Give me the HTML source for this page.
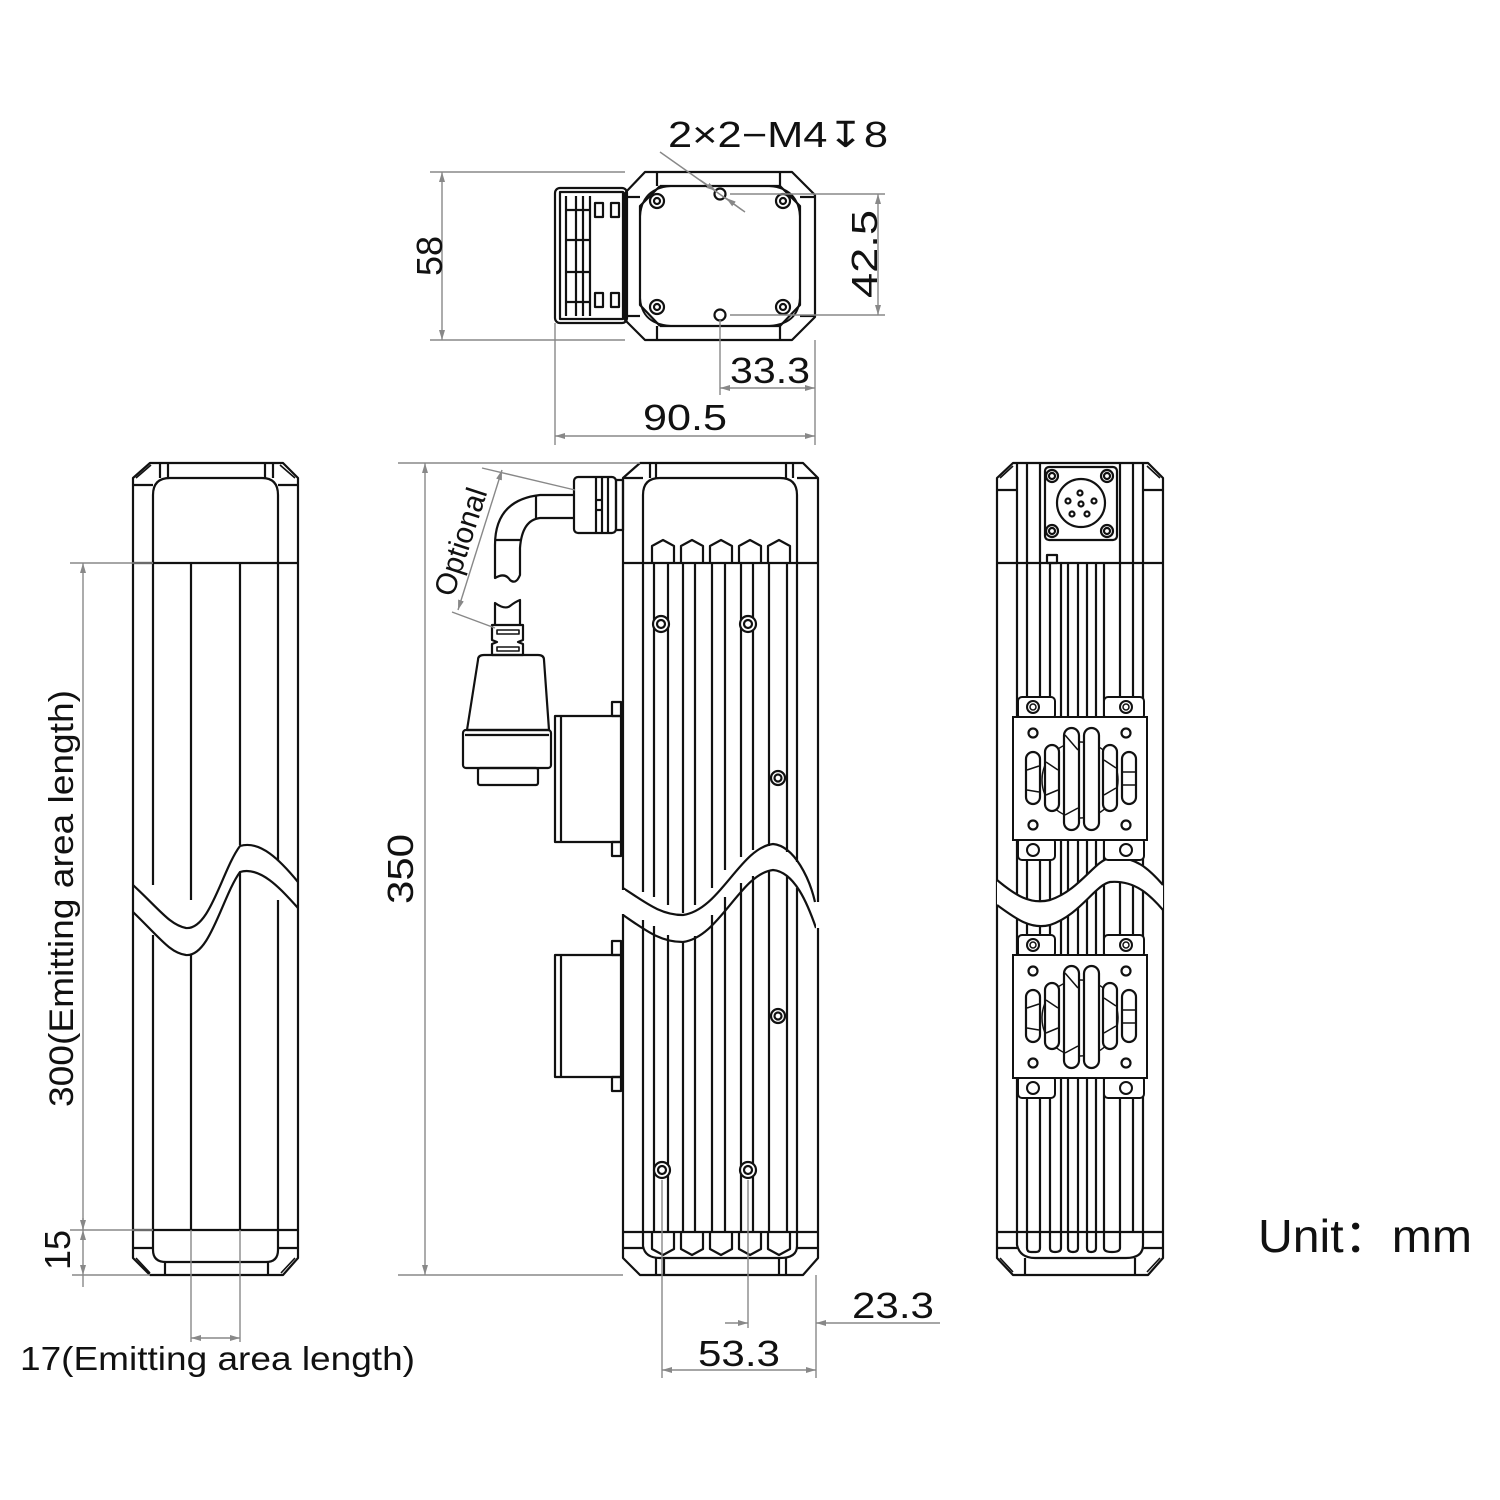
<!DOCTYPE html>
<html><head><meta charset="utf-8"><style>
html,body{margin:0;padding:0;background:#fff;}
svg{display:block}
text{font-family:"Liberation Sans",sans-serif;fill:#111}
</style></head><body>
<svg width="1500" height="1500" viewBox="0 0 1500 1500" xmlns="http://www.w3.org/2000/svg">
<defs>
<marker id="a" viewBox="0 0 10 6" refX="10" refY="3" markerWidth="10" markerHeight="6" orient="auto-start-reverse" markerUnits="userSpaceOnUse"><path d="M0,0L10,3L0,6z" fill="#888"/></marker>
<g id="fan">
 <rect x="1018" y="697" width="37" height="22" rx="4" fill="#fff" stroke="#111" stroke-width="2"/>
 <rect x="1104" y="697" width="40" height="22" rx="4" fill="#fff" stroke="#111" stroke-width="2"/>
 <rect x="1018" y="838" width="37" height="22" rx="4" fill="#fff" stroke="#111" stroke-width="2"/>
 <rect x="1104" y="838" width="40" height="22" rx="4" fill="#fff" stroke="#111" stroke-width="2"/>
 <circle cx="1033" cy="707" r="6" fill="none" stroke="#111" stroke-width="2"/><circle cx="1033" cy="707" r="3" fill="none" stroke="#111" stroke-width="1.5"/>
 <circle cx="1126" cy="707" r="6" fill="none" stroke="#111" stroke-width="2"/><circle cx="1126" cy="707" r="3" fill="none" stroke="#111" stroke-width="1.5"/>
 <circle cx="1033" cy="850" r="6" fill="none" stroke="#111" stroke-width="2"/><circle cx="1126" cy="850" r="6" fill="none" stroke="#111" stroke-width="2"/>
 <rect x="1013" y="717" width="134" height="123" fill="#fff" stroke="#111" stroke-width="2"/>
 <circle cx="1033" cy="733" r="4.5" fill="none" stroke="#111" stroke-width="2.2"/>
 <circle cx="1126" cy="733" r="4.5" fill="none" stroke="#111" stroke-width="2.2"/>
 <circle cx="1033" cy="825" r="4.5" fill="none" stroke="#111" stroke-width="2.2"/>
 <circle cx="1126" cy="825" r="4.5" fill="none" stroke="#111" stroke-width="2.2"/>
 <circle cx="1080" cy="780" r="38" fill="none" stroke="#111" stroke-width="1.5"/>
 <g fill="#fff" stroke="#111" stroke-width="2.2">
 <rect x="1026" y="752" width="14" height="52" rx="7"/>
 <rect x="1045" y="745" width="14" height="66" rx="7"/>
 <rect x="1064" y="728" width="15" height="102" rx="7.5"/>
 <rect x="1084" y="728" width="15" height="102" rx="7.5"/>
 <rect x="1103" y="745" width="14" height="66" rx="7"/>
 <rect x="1122" y="752" width="14" height="52" rx="7"/>
 </g>
 <g stroke="#111" stroke-width="1.5">
 <line x1="1027" y1="770" x2="1039" y2="766"/><line x1="1027" y1="790" x2="1039" y2="792"/>
 <line x1="1046" y1="762" x2="1058" y2="770"/><line x1="1046" y1="795" x2="1058" y2="790"/>
 <line x1="1065" y1="735" x2="1078" y2="750"/><line x1="1065" y1="815" x2="1078" y2="808"/>
 <line x1="1104" y1="760" x2="1116" y2="768"/><line x1="1104" y1="795" x2="1116" y2="788"/>
 <line x1="1123" y1="772" x2="1135" y2="772"/><line x1="1123" y1="785" x2="1135" y2="785"/>
 </g>
</g>
</defs>

<g fill="none" stroke="#111" stroke-width="2.2" stroke-linejoin="round">
<!-- ===== TOP VIEW ===== -->
<rect x="555" y="188" width="72" height="135" rx="5"/>
<rect x="560" y="192" width="63" height="127"/>
<line x1="566" y1="196" x2="566" y2="316"/><line x1="590" y1="196" x2="590" y2="316"/>
<line x1="576" y1="196" x2="576" y2="316"/><line x1="583" y1="196" x2="583" y2="316"/>
<rect x="595" y="203" width="8" height="14"/><rect x="611" y="203" width="8" height="14"/>
<rect x="595" y="293" width="8" height="14"/><rect x="611" y="293" width="8" height="14"/>
<line x1="566" y1="210" x2="590" y2="210"/><line x1="566" y1="240" x2="590" y2="240"/><line x1="566" y1="272" x2="590" y2="272"/><line x1="566" y1="302" x2="590" y2="302"/>
<path d="M645,172 L792,172 L815,195 L815,317 L792,340 L645,340 L625,320 L625,193 Z"/>
<path d="M657,172 L657,186 M780,172 L780,186 M657,340 L657,326 M780,340 L780,326"/>
<line x1="660" y1="186" x2="780" y2="186"/><line x1="660" y1="326" x2="780" y2="326"/>
<line x1="625" y1="197" x2="640" y2="197"/><line x1="625" y1="316" x2="640" y2="316"/>
<line x1="800" y1="197" x2="815" y2="197"/><line x1="800" y1="316" x2="815" y2="316"/>
<path d="M660,186 L640,206 L640,305 L660,326"/>
<path d="M780,186 L800,206 L800,305 L780,326"/>
<path d="M675,186 Q640,186 640,220 M765,186 Q800,186 800,220 M675,326 Q640,326 640,295 M765,326 Q800,326 800,295" stroke-width="1.8"/>
<circle cx="657" cy="201" r="7"/><circle cx="657" cy="201" r="3"/>
<circle cx="783" cy="201" r="7"/><circle cx="783" cy="201" r="3"/>
<circle cx="657" cy="307" r="7"/><circle cx="657" cy="307" r="3"/>
<circle cx="783" cy="307" r="7"/><circle cx="783" cy="307" r="3"/>
<circle cx="720" cy="194" r="5.5"/><circle cx="720" cy="315" r="5.5"/>

<!-- ===== LEFT VIEW ===== -->
<path d="M150,463 L283,463 L298,478 L298,1258 L283,1275 L150,1275 L133,1258 L133,478 Z"/>
<path d="M136,478 L151,465 M295,478 L280,465" stroke-width="1.6"/>
<line x1="133" y1="485" x2="153" y2="485"/><line x1="278" y1="485" x2="298" y2="485"/>
<line x1="168" y1="463" x2="168" y2="478"/><line x1="265" y1="463" x2="265" y2="478"/>
<line x1="160" y1="463" x2="160" y2="478"/><line x1="273" y1="463" x2="273" y2="478"/>
<path d="M153,563 L153,495 Q153,478 170,478 L262,478 Q278,478 278,495 L278,563"/>
<line x1="133" y1="563" x2="298" y2="563"/>
<path d="M153,885 L153,563 M191,900 L191,563 M240,845 L240,563 M278,860 L278,563"/>
<path d="M153,935 L153,1230 M191,955 L191,1230 M240,872 L240,1230 M278,900 L278,1230"/>
<path d="M133,885 C160,910 170,925 186,928 C210,930 222,870 240,846 C260,840 280,860 298,882"/>
<path d="M133,912 C160,938 170,953 186,955 C210,957 222,897 240,872 C260,866 280,888 298,908"/>
<line x1="133" y1="1230" x2="298" y2="1230"/>
<path d="M153,1230 L153,1250 Q153,1262 166,1262 L266,1262 Q278,1262 278,1250 L278,1230"/>
<line x1="133" y1="1248" x2="153" y2="1248"/><line x1="278" y1="1248" x2="298" y2="1248"/>
<line x1="165" y1="1262" x2="165" y2="1275"/><line x1="268" y1="1262" x2="268" y2="1275"/>
<path d="M136,1258 L150,1273 M295,1258 L281,1273" stroke-width="1.6"/>

<!-- ===== MIDDLE VIEW ===== -->
<path d="M640,463 L803,463 L818,478 L818,1258 L803,1275 L640,1275 L623,1258 L623,478 Z"/>
<line x1="623" y1="478" x2="643" y2="478"/><line x1="797" y1="478" x2="818" y2="478"/>
<line x1="656" y1="463" x2="656" y2="478"/><line x1="786" y1="463" x2="786" y2="478"/>
<line x1="650" y1="463" x2="650" y2="478"/><line x1="793" y1="463" x2="793" y2="478"/>
<path d="M643,563 L643,495 Q643,478 660,478 L780,478 Q797,478 797,495 L797,563"/>
<line x1="623" y1="563" x2="818" y2="563"/>
<path d="M652,563 L652,546 L663,540 L674,546 L674,563 M681,563 L681,546 L692,540 L703,546 L703,563 M710,563 L710,546 L721,540 L732,546 L732,563 M739,563 L739,546 L750,540 L761,546 L761,563 M768,563 L768,546 L779,540 L790,546 L790,563"/>
<path d="M643,563V892 M654,563V897 M668,563V905 M683,563V913 M695,563V905 M712,563V888 M725,563V870 M741,563V857 M753,563V850 M769,563V846 M787,563V852 M797,563V862"/>
<path d="M643,920V1232 M654,926V1232 M668,935V1232 M683,942V1232 M695,936V1232 M712,915V1232 M725,897V1232 M741,883V1232 M753,876V1232 M769,871V1232 M787,876V1232 M797,888V1232"/>
<path d="M623,888 C645,902 660,915 683,915 C720,910 740,848 773,844 C795,846 810,880 815,902"/>
<path d="M623,915 C645,930 660,942 683,942 C720,937 740,874 773,870 C795,872 808,905 816,928"/>
<line x1="818" y1="902" x2="818" y2="928" stroke="#fff" stroke-width="4"/>
<line x1="623" y1="890" x2="623" y2="914" stroke="#fff" stroke-width="4"/>
<line x1="623" y1="1232" x2="818" y2="1232"/>
<path d="M652,1232 L652,1249 L663,1255 L674,1249 L674,1232 M681,1232 L681,1249 L692,1255 L703,1249 L703,1232 M710,1232 L710,1249 L721,1255 L732,1249 L732,1232 M739,1232 L739,1249 L750,1255 L761,1249 L761,1232 M768,1232 L768,1249 L779,1255 L790,1249 L790,1232"/>
<path d="M643,1232 L643,1246 Q645,1258 660,1258 L780,1258 Q797,1258 797,1246 L797,1232"/>
<line x1="623" y1="1248" x2="643" y2="1248"/><line x1="797" y1="1248" x2="818" y2="1248"/>
<line x1="656" y1="1258" x2="656" y2="1275"/><line x1="786" y1="1258" x2="786" y2="1275"/>
<line x1="664" y1="1258" x2="664" y2="1275"/><line x1="779" y1="1258" x2="779" y2="1275"/>
<g fill="#fff">
<circle cx="661" cy="624" r="8"/><circle cx="661" cy="624" r="4"/>
<circle cx="748" cy="624" r="8"/><circle cx="748" cy="624" r="4"/>
<circle cx="778" cy="778" r="7"/><circle cx="778" cy="778" r="3.5"/>
<circle cx="778" cy="1016" r="7"/><circle cx="778" cy="1016" r="3.5"/>
<circle cx="662" cy="1170" r="8"/><circle cx="662" cy="1170" r="4"/>
<circle cx="748" cy="1170" r="8"/><circle cx="748" cy="1170" r="4"/>
</g>
<rect x="555" y="716" width="66" height="126"/><line x1="561" y1="716" x2="561" y2="842"/>
<rect x="612" y="702" width="9" height="14"/><rect x="612" y="842" width="9" height="14"/>
<rect x="555" y="955" width="66" height="122"/><line x1="561" y1="955" x2="561" y2="1077"/>
<rect x="612" y="941" width="9" height="14"/><rect x="612" y="1077" width="9" height="14"/>
<rect x="574" y="477" width="42" height="56" rx="4"/>
<line x1="596" y1="477" x2="596" y2="533"/><line x1="602" y1="477" x2="602" y2="533"/><line x1="608" y1="477" x2="608" y2="533"/>
<line x1="596" y1="500" x2="602" y2="500"/><line x1="596" y1="510" x2="602" y2="510"/>
<rect x="616" y="480" width="7" height="50"/>
<path d="M574,495 L540,495 Q495,500 495,545 L495,578 Q505,572 510,580 Q516,585 520,575 L520,548 Q522,520 540,518 L574,518"/>
<line x1="536" y1="495" x2="536" y2="518"/><line x1="495" y1="540" x2="520" y2="540"/>
<path d="M495,625 L495,603 Q505,610 510,606 Q515,602 520,600 L520,625"/>
<path d="M492,625 L523,625 L523,640 L518,642 L523,644 L523,655 L492,655 L492,644 L497,642 L492,640 Z"/>
<rect x="497" y="630" width="22" height="4" stroke-width="1.6"/><rect x="497" y="647" width="22" height="4" stroke-width="1.6"/>
<path d="M478,660 Q478,655 484,655 L538,655 Q544,655 544,660 L549,730 L467,730 Z"/>
<rect x="463" y="730" width="88" height="38" rx="3"/>
<line x1="465" y1="735" x2="549" y2="735"/>
<rect x="478" y="768" width="60" height="17" rx="2"/>

<!-- ===== RIGHT VIEW ===== -->
<path d="M1013,463 L1148,463 L1163,478 L1163,1258 L1148,1275 L1013,1275 L997,1258 L997,478 Z"/>
<path d="M1000,478 L1013,466 M1160,478 L1147,466" stroke-width="1.6"/>
<line x1="997" y1="490" x2="1017" y2="490"/><line x1="1143" y1="490" x2="1163" y2="490"/>
<line x1="1017" y1="463" x2="1017" y2="563"/><line x1="1143" y1="463" x2="1143" y2="563"/>
<line x1="1027" y1="463" x2="1027" y2="563"/><line x1="1133" y1="463" x2="1133" y2="563"/>
<line x1="1040" y1="463" x2="1040" y2="563"/><line x1="1120" y1="463" x2="1120" y2="563"/>
<rect x="1045" y="467" width="72" height="73" rx="4"/>
<circle cx="1081" cy="503" r="24"/>
<circle cx="1080" cy="493" r="2.5"/><circle cx="1068" cy="501" r="2.5"/><circle cx="1081" cy="504" r="2.5"/><circle cx="1094" cy="501" r="2.5"/><circle cx="1072" cy="514" r="2.5"/><circle cx="1087" cy="514" r="2.5"/>
<circle cx="1052" cy="476" r="6"/><circle cx="1052" cy="476" r="3"/>
<circle cx="1107" cy="476" r="6"/><circle cx="1107" cy="476" r="3"/>
<circle cx="1052" cy="531" r="6"/><circle cx="1052" cy="531" r="3"/>
<circle cx="1107" cy="531" r="6"/><circle cx="1107" cy="531" r="3"/>
<rect x="1047" y="555" width="10" height="8"/>
<line x1="997" y1="563" x2="1163" y2="563"/>
<path d="M1017,563V1232 M1027,563V1232 M1040,563V1232 M1050,563V1232 M1061,563V1232 M1068,563V1232 M1078,563V1232 M1087,563V1232 M1096,563V1232 M1104,563V1232 M1120,563V1232 M1133,563V1232 M1143,563V1232"/>
</g>
<path d="M997,880 C1015,895 1030,905 1050,900 C1080,890 1095,860 1110,858 C1135,855 1150,870 1163,885 L1163,910 C1150,895 1135,880 1110,882 C1095,885 1080,915 1050,925 C1030,930 1015,918 997,905 Z" fill="#fff" stroke="none"/>
<path d="M997,880 C1015,895 1030,905 1050,900 C1080,890 1095,860 1110,858 C1135,855 1150,870 1163,885 M997,905 C1015,918 1030,930 1050,925 C1080,915 1095,885 1110,882 C1135,880 1150,895 1163,910" fill="none" stroke="#111" stroke-width="2.2"/>
<g fill="none" stroke="#111" stroke-width="2.2">
<line x1="997" y1="1232" x2="1163" y2="1232"/>
<path d="M1017,1232 L1017,1245 Q1020,1258 1035,1258 L1126,1258 Q1143,1258 1143,1245 L1143,1232"/>
<path d="M1027,1232V1248Q1027,1252 1031,1252L1036,1252Q1040,1252 1040,1248V1232 M1050,1232V1248Q1050,1252 1055,1252Q1061,1252 1061,1248V1232 M1068,1232V1248Q1068,1252 1073,1252Q1078,1252 1078,1248V1232 M1087,1232V1248Q1087,1252 1091,1252Q1096,1252 1096,1248V1232 M1104,1232V1248Q1104,1252 1112,1252Q1120,1252 1120,1248V1232"/>
<line x1="997" y1="1248" x2="1017" y2="1248"/><line x1="1143" y1="1248" x2="1163" y2="1248"/>
<line x1="1025" y1="1258" x2="1025" y2="1275"/><line x1="1135" y1="1258" x2="1135" y2="1275"/>
<path d="M1000,1258 L1013,1272 M1160,1258 L1147,1272" stroke-width="1.6"/>
</g>
<use href="#fan"/>
<use href="#fan" transform="translate(0,238)"/>

<!-- ===== DIMENSIONS ===== -->
<g stroke="#888" stroke-width="1.4" fill="none">
<line x1="430" y1="172" x2="625" y2="172"/><line x1="430" y1="340" x2="625" y2="340"/>
<line x1="442" y1="172" x2="442" y2="340" marker-start="url(#a)" marker-end="url(#a)"/>
<line x1="730" y1="194" x2="885" y2="194"/><line x1="730" y1="315" x2="885" y2="315"/>
<line x1="878" y1="194" x2="878" y2="315" marker-start="url(#a)" marker-end="url(#a)"/>
<line x1="720" y1="320" x2="720" y2="395"/><line x1="815" y1="340" x2="815" y2="445"/>
<line x1="720" y1="388" x2="815" y2="388" marker-start="url(#a)" marker-end="url(#a)"/>
<line x1="555" y1="323" x2="555" y2="445"/>
<line x1="555" y1="436" x2="815" y2="436" marker-start="url(#a)" marker-end="url(#a)"/>
<line x1="660" y1="152" x2="745" y2="212"/>
<line x1="700" y1="180" x2="716" y2="191" marker-end="url(#a)"/>
<line x1="742" y1="210" x2="726" y2="198" marker-end="url(#a)"/>
<line x1="398" y1="463" x2="640" y2="463"/><line x1="398" y1="1275" x2="623" y2="1275"/>
<line x1="425" y1="463" x2="425" y2="1275" marker-start="url(#a)" marker-end="url(#a)"/>
<line x1="70" y1="563" x2="153" y2="563"/><line x1="70" y1="1230" x2="153" y2="1230"/>
<line x1="83" y1="563" x2="83" y2="1230" marker-start="url(#a)" marker-end="url(#a)"/>
<line x1="72" y1="1275" x2="150" y2="1275"/>
<line x1="83" y1="1230" x2="83" y2="1275" marker-start="url(#a)" marker-end="url(#a)"/>
<line x1="83" y1="1218" x2="83" y2="1230" /><line x1="83" y1="1275" x2="83" y2="1287"/>
<line x1="191" y1="1230" x2="191" y2="1342"/><line x1="240" y1="1230" x2="240" y2="1342"/>
<line x1="191" y1="1338" x2="240" y2="1338" marker-start="url(#a)" marker-end="url(#a)"/>
<line x1="662" y1="1180" x2="662" y2="1378"/><line x1="748" y1="1180" x2="748" y2="1328"/>
<line x1="816" y1="1275" x2="816" y2="1378"/>
<line x1="725" y1="1323" x2="748" y2="1323" marker-end="url(#a)"/>
<line x1="940" y1="1323" x2="816" y2="1323" marker-end="url(#a)"/>
<line x1="662" y1="1370" x2="816" y2="1370" marker-start="url(#a)" marker-end="url(#a)"/>
<line x1="482" y1="468" x2="575" y2="490"/><line x1="452" y1="612" x2="495" y2="628"/>
<line x1="502" y1="470" x2="458" y2="610" marker-start="url(#a)" marker-end="url(#a)"/>
</g>

<g font-size="36">
<text x="668" y="147" textLength="220" lengthAdjust="spacingAndGlyphs">2×2−M4↧8</text>
<text x="730" y="383" textLength="80" lengthAdjust="spacingAndGlyphs">33.3</text>
<text x="643" y="430" textLength="84" lengthAdjust="spacingAndGlyphs">90.5</text>
<text x="852" y="1318" textLength="82" lengthAdjust="spacingAndGlyphs">23.3</text>
<text x="698" y="1366" textLength="82" lengthAdjust="spacingAndGlyphs">53.3</text>
<text transform="translate(442,276) rotate(-90)">58</text>
<text transform="translate(877,298) rotate(-90)" textLength="88" lengthAdjust="spacingAndGlyphs">42.5</text>
<text transform="translate(413,904) rotate(-90)" textLength="70" lengthAdjust="spacingAndGlyphs">350</text>
<text transform="translate(73,1107) rotate(-90)" font-size="34" textLength="417" lengthAdjust="spacingAndGlyphs">300(Emitting area length)</text>
<text transform="translate(70,1270) rotate(-90)">15</text>
<text x="20" y="1370" font-size="33" textLength="395" lengthAdjust="spacingAndGlyphs">17(Emitting area length)</text>
<text transform="translate(453,598) rotate(-72)" font-size="30">Optional</text>
<text x="1258" y="1252" font-size="46" textLength="214" lengthAdjust="spacingAndGlyphs">Unit：mm</text>
</g>
</svg>
</body></html>
